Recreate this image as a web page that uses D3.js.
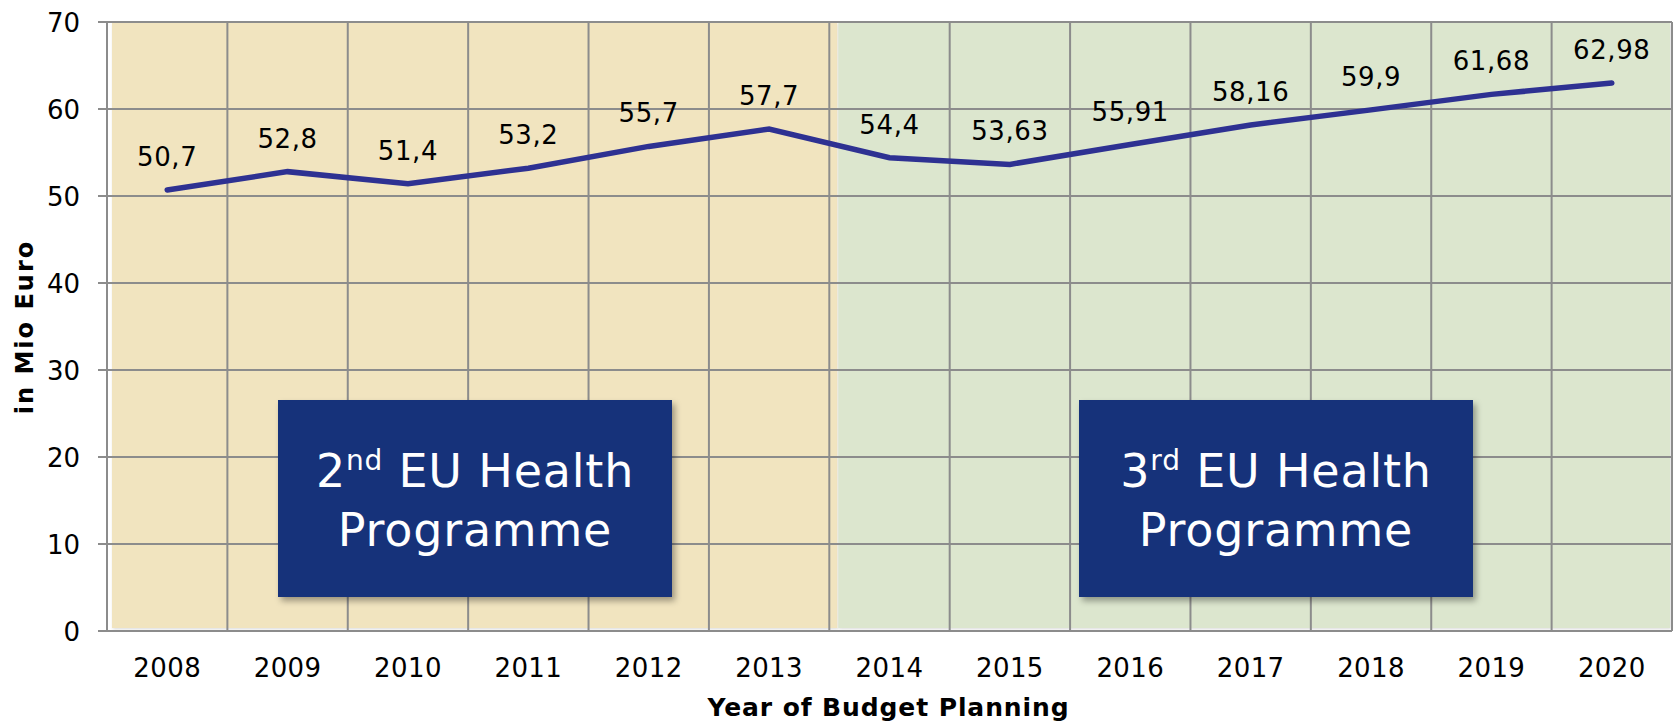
<!DOCTYPE html>
<html>
<head>
<meta charset="utf-8">
<script src="https://cdn.jsdelivr.net/npm/d3@7"></script>
<style>
  body { margin: 0; background: #fff; }
  text { font-family: "DejaVu Sans", Verdana, sans-serif; }
</style>
</head>
<body>
<div id="chart"></div>
<script>
// valores do gráfico
var years = ["2008", "2009", "2010", "2011", "2012", "2013", "2014", "2015", "2016", "2017", "2018", "2019", "2020"];
var budget = [50.7, 52.8, 51.4, 53.2, 55.7, 57.7, 54.4, 53.63, 55.91, 58.16, 59.9, 61.68, 62.98];
var yTicks = [0, 10, 20, 30, 40, 50, 60, 70];
var programmes = [
  { ord: "2", sup: "nd", first: "2008", last: "2013" },
  { ord: "3", sup: "rd", first: "2014", last: "2020" }
];
var yTitle = "in Mio Euro";
var xTitle = "Year of Budget Planning";

// layout (nada de "top" global, choca com window.top)
var width = 1675, height = 723;
var pL = 107, pR = 1672, pT = 22, pB = 631;
var panelColors = ["#f1e4bf", "#dce6ce"];
var boxPos = [{ x: 278, w: 394 }, { x: 1079, w: 394 }]; // caixas azuis
var boxTop = 400, boxH = 197;

var svg = d3.select("#chart").append("svg")
  .attr("width", width)
  .attr("height", height);

var defs = svg.append("defs");
defs.append("filter").attr("id", "shadow")
  .attr("x", "-10%").attr("y", "-10%").attr("width", "120%").attr("height", "125%")
  .append("feDropShadow")
  .attr("dx", 3).attr("dy", 4).attr("stdDeviation", 3)
  .attr("flood-color", "#000").attr("flood-opacity", 0.35);
defs.append("filter").attr("id", "soft")
  .append("feDropShadow")
  .attr("dx", 1).attr("dy", 1).attr("stdDeviation", 1.5)
  .attr("flood-color", "#000").attr("flood-opacity", 0.15);

var x = d3.scaleBand().domain(years).range([pL, pR]);
var y = d3.scaleLinear().domain([0, 70]).range([pB, pT]);

// fundos dos programas
svg.append("g").selectAll("rect")
  .data(programmes)
  .enter().append("rect")
  .attr("x", (d, i) => i == 0 ? x(d.first) + 5 : x(d.first) + 9)
  .attr("width", (d, i) => i == 0 ? x(d.last) + x.bandwidth() - x(d.first) + 3 : x(d.last) + x.bandwidth() - x(d.first) - 11)
  .attr("y", y(70) + 1)
  .attr("height", y(0) - y(70) - 4)
  .attr("fill", (d, i) => panelColors[i])
  .attr("filter", "url(#soft)");

// grelha
var grid = svg.append("g").attr("stroke", "#8c8c8c").attr("stroke-width", 2);
grid.selectAll("line.h")
  .data(yTicks)
  .enter().append("line")
  .attr("x1", pL - 9).attr("x2", pR)
  .attr("y1", d => y(d)).attr("y2", d => y(d));
grid.selectAll("line.v")
  .data(years.concat(["end"]))
  .enter().append("line")
  .attr("x1", (d, i) => pL + i * x.bandwidth())
  .attr("x2", (d, i) => pL + i * x.bandwidth())
  .attr("y1", pT).attr("y2", pB);

// eixos
var yAxis = svg.append("g")
  .attr("transform", "translate(" + pL + ",0)")
  .call(d3.axisLeft(y).tickValues(yTicks).tickSize(0).tickPadding(27));
yAxis.select(".domain").remove();
yAxis.selectAll("text").attr("font-size", 26).attr("fill", "#000").attr("dy", "0.36em");

var xAxis = svg.append("g")
  .attr("transform", "translate(0," + pB + ")")
  .call(d3.axisBottom(x).tickSize(0).tickPadding(0));
xAxis.select(".domain").remove();
xAxis.selectAll("text").attr("font-size", 26).attr("fill", "#000").attr("dy", 0).attr("y", 46)
  .attr("letter-spacing", 0.4);

svg.append("text")
  .attr("transform", "translate(33,327) rotate(-90)")
  .attr("text-anchor", "middle")
  .attr("font-size", 24).attr("font-weight", "bold")
  .attr("letter-spacing", 2)
  .text(yTitle);

svg.append("text")
  .attr("x", (pL + pR) / 2 - 1).attr("y", 716)
  .attr("text-anchor", "middle")
  .attr("font-size", 25).attr("font-weight", "bold")
  .attr("letter-spacing", 0.9)
  .text(xTitle);

// linha
var line = d3.line()
  .x((d, i) => x(years[i]) + x.bandwidth() / 2)
  .y(d => y(d));

svg.append("path")
  .datum(budget)
  .attr("d", line)
  .attr("fill", "none")
  .attr("stroke", "#2e3192")
  .attr("stroke-width", 5.5)
  .attr("stroke-linecap", "round");

svg.append("g").selectAll("text")
  .data(budget)
  .enter().append("text")
  .attr("x", (d, i) => x(years[i]) + x.bandwidth() / 2)
  .attr("y", d => y(d) - 24)
  .attr("text-anchor", "middle")
  .attr("font-size", 26)
  .attr("letter-spacing", 0.6)
  .text(d => String(d).replace(".", ","));

// caixas
var boxes = svg.append("g").selectAll("g")
  .data(programmes)
  .enter().append("g");

boxes.append("rect")
  .attr("x", (d, i) => boxPos[i].x)
  .attr("y", boxTop)
  .attr("width", (d, i) => boxPos[i].w)
  .attr("height", boxH)
  .attr("fill", "#14317a")
  .attr("filter", "url(#shadow)");

var t1 = boxes.append("text")
  .attr("x", (d, i) => boxPos[i].x + boxPos[i].w / 2)
  .attr("y", 487)
  .attr("text-anchor", "middle")
  .attr("font-size", 46)
  .attr("letter-spacing", 0.8)
  .attr("fill", "#fff");
t1.append("tspan").text(d => d.ord);
t1.append("tspan").attr("font-size", 28).attr("dy", -17).text(d => d.sup);
t1.append("tspan").attr("dy", 17).text(" EU Health");

boxes.append("text")
  .attr("x", (d, i) => boxPos[i].x + boxPos[i].w / 2)
  .attr("y", 546)
  .attr("text-anchor", "middle")
  .attr("font-size", 46)
  .attr("letter-spacing", 0.8)
  .attr("fill", "#fff")
  .text("Programme");
</script>
</body>
</html>
